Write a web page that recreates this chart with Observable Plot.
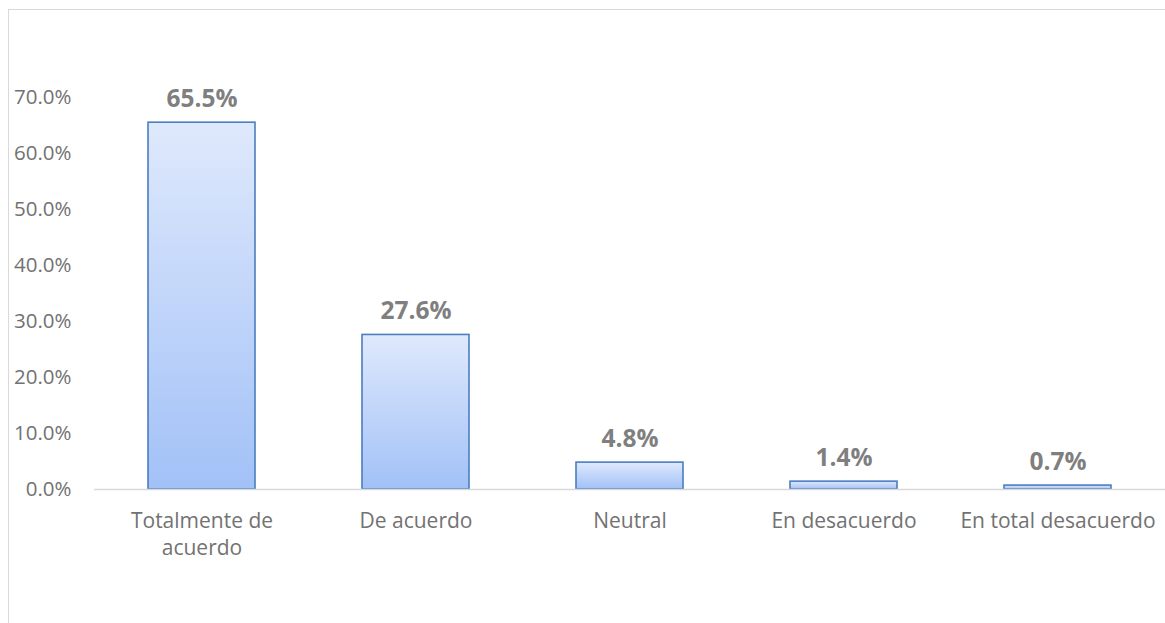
<!DOCTYPE html>
<html>
<head>
<meta charset="utf-8">
<script src="https://cdn.jsdelivr.net/npm/d3@7"></script>
<script src="https://cdn.jsdelivr.net/npm/@observablehq/plot@0.6"></script>
<style>
  html, body { margin: 0; padding: 0; background: #fff; }
  #wrap { position: relative; width: 1165px; height: 623px; overflow: hidden; }
  #frame { position: absolute; left: 8px; top: 9px; width: 1200px; height: 700px;
           border-top: 1.5px solid #d9d9d9; border-left: 1.5px solid #d9d9d9; pointer-events: none; }
  #chart { position: absolute; left: 0; top: 0; }
</style>
</head>
<body>
<div id="wrap"><div id="frame"></div><div id="chart"></div></div>
<script>
const categories = ["Totalmente de acuerdo", "De acuerdo", "Neutral", "En desacuerdo", "En total desacuerdo"];
const categoryLabels = ["Totalmente de\nacuerdo", "De acuerdo", "Neutral", "En desacuerdo", "En total desacuerdo"];
const values = [0.655, 0.276, 0.048, 0.014, 0.007];
const yTicks = [0, 0.1, 0.2, 0.3, 0.4, 0.5, 0.6, 0.7];

const data = categories.map((c, i) => ({category: c, value: values[i]}));
const labelOf = new Map(categories.map((c, i) => [c, categoryLabels[i]]));

const font = "'Open Sans', 'Liberation Sans', sans-serif";

const plot = Plot.plot({
  width: 1165,
  height: 623,
  marginTop: 41,
  marginBottom: 134,
  marginLeft: 94,
  marginRight: 0,
  style: {fontFamily: font, background: "transparent", overflow: "visible"},
  x: {domain: categories, paddingInner: 0.5, paddingOuter: 0.25, label: null},
  y: {domain: [0, 0.8], label: null},
  marks: [
    Plot.axisY({ticks: yTicks, tickFormat: d3.format(".1%"), tickSize: 0, tickPadding: 23,
      fontSize: 20.5, fill: "#727272", label: null}),
    Plot.axisX({tickSize: 0, tickPadding: 19, fontSize: 21, fill: "#727272",
      tickFormat: d => labelOf.get(d), lineHeight: 1.3, label: null}),
    Plot.barY(data, {x: "category", y: "value", fill: "url(#barGrad)", stroke: "#4a7ebf",
      strokeWidth: 1.6}),
    Plot.ruleY([0], {stroke: "#d9d9d9", strokeWidth: 1.5}),
    Plot.text(data, {x: "category", y: "value", text: d => d3.format(".1%")(d.value),
      lineAnchor: "bottom", dy: -16, fontSize: 24.5, fontWeight: "bold", fill: "#7f7f7f"})
  ]
});

const svg = d3.select(plot);
const defs = svg.insert("defs", ":first-child");
const g = defs.append("linearGradient").attr("id", "barGrad")
  .attr("x1", 0).attr("y1", 0).attr("x2", 0).attr("y2", 1);
g.append("stop").attr("offset", "0%").attr("stop-color", "#dfe9fc");
g.append("stop").attr("offset", "100%").attr("stop-color", "#a2c1f7");

document.getElementById("chart").appendChild(plot);
</script>
</body>
</html>
